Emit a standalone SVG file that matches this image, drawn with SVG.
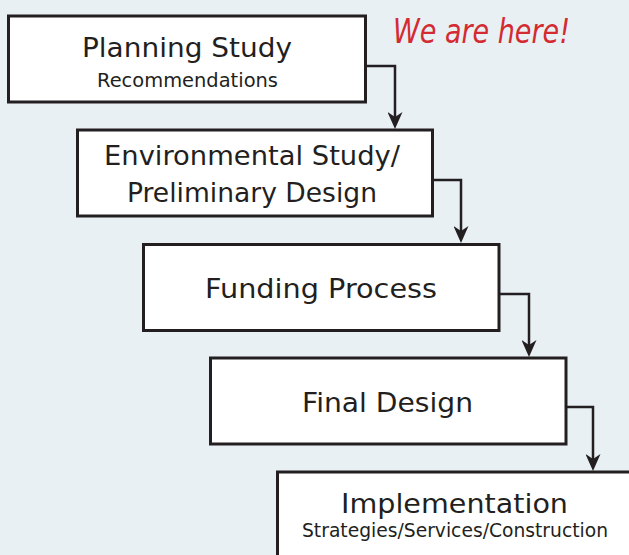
<svg xmlns="http://www.w3.org/2000/svg" width="629" height="555" viewBox="0 0 629 555">
  <defs>
    <style>
      .box { fill: #ffffff; stroke: #231f20; stroke-width: 3; }
      .conn { fill: none; stroke: #231f20; stroke-width: 2.5; }
      .t1 { font-family: "DejaVu Sans", "Liberation Sans", sans-serif; font-size: 27px; fill: #231f20; text-anchor: middle; }
      .t2 { font-family: "DejaVu Sans", "Liberation Sans", sans-serif; font-size: 19px; fill: #231f20; text-anchor: middle; }
      .note { font-family: "DejaVu Sans", "Liberation Sans", sans-serif; font-size: 34px; font-style: italic; fill: #d42a32; }
    </style>
    <marker id="arrow" markerUnits="userSpaceOnUse" viewBox="0 0 17 15" markerWidth="17" markerHeight="15" refX="9" refY="7.5" orient="auto">
      <path d="M0,0 L17,7.5 L0,15 L5,7.5 Z" fill="#231f20"/>
    </marker>
  </defs>
  <rect x="0" y="0" width="629" height="555" fill="#e8f0f4"/>

  <g id="connectors">
    <path class="conn" d="M366,66 H395 V121" marker-end="url(#arrow)"/>
    <path class="conn" d="M433,180 H461 V235" marker-end="url(#arrow)"/>
    <path class="conn" d="M500,294 H529 V349" marker-end="url(#arrow)"/>
    <path class="conn" d="M567,407 H593 V463" marker-end="url(#arrow)"/>
  </g>

  <g id="planning-study">
    <rect class="box" x="8.5" y="16" width="357" height="86"/>
    <text class="t1" x="187" y="57" font-size="26" textLength="210" lengthAdjust="spacingAndGlyphs">Planning Study</text>
    <text class="t2" x="187.5" y="87" textLength="181" lengthAdjust="spacingAndGlyphs">Recommendations</text>
  </g>

  <g id="environmental-study">
    <rect class="box" x="77.5" y="130" width="355" height="86"/>
    <text class="t1" x="252" y="165" textLength="296" lengthAdjust="spacingAndGlyphs">Environmental Study/</text>
    <text class="t1" x="252" y="202" textLength="250" lengthAdjust="spacingAndGlyphs">Preliminary Design</text>
  </g>

  <g id="funding-process">
    <rect class="box" x="143.5" y="244.5" width="355.5" height="86"/>
    <text class="t1" x="321" y="298" textLength="232" lengthAdjust="spacingAndGlyphs">Funding Process</text>
  </g>

  <g id="final-design">
    <rect class="box" x="210.5" y="358" width="355.5" height="86"/>
    <text class="t1" x="387.5" y="412" textLength="171" lengthAdjust="spacingAndGlyphs">Final Design</text>
  </g>

  <g id="implementation">
    <rect class="box" x="277.5" y="472" width="356" height="86"/>
    <text class="t1" x="454.5" y="513" textLength="227" lengthAdjust="spacingAndGlyphs">Implementation</text>
    <text class="t2" x="455" y="537" textLength="306" lengthAdjust="spacingAndGlyphs">Strategies/Services/Construction</text>
  </g>

  <g id="we-are-here">
    <text class="note" x="393" y="43" textLength="177" lengthAdjust="spacingAndGlyphs">We are here!</text>
  </g>
</svg>
